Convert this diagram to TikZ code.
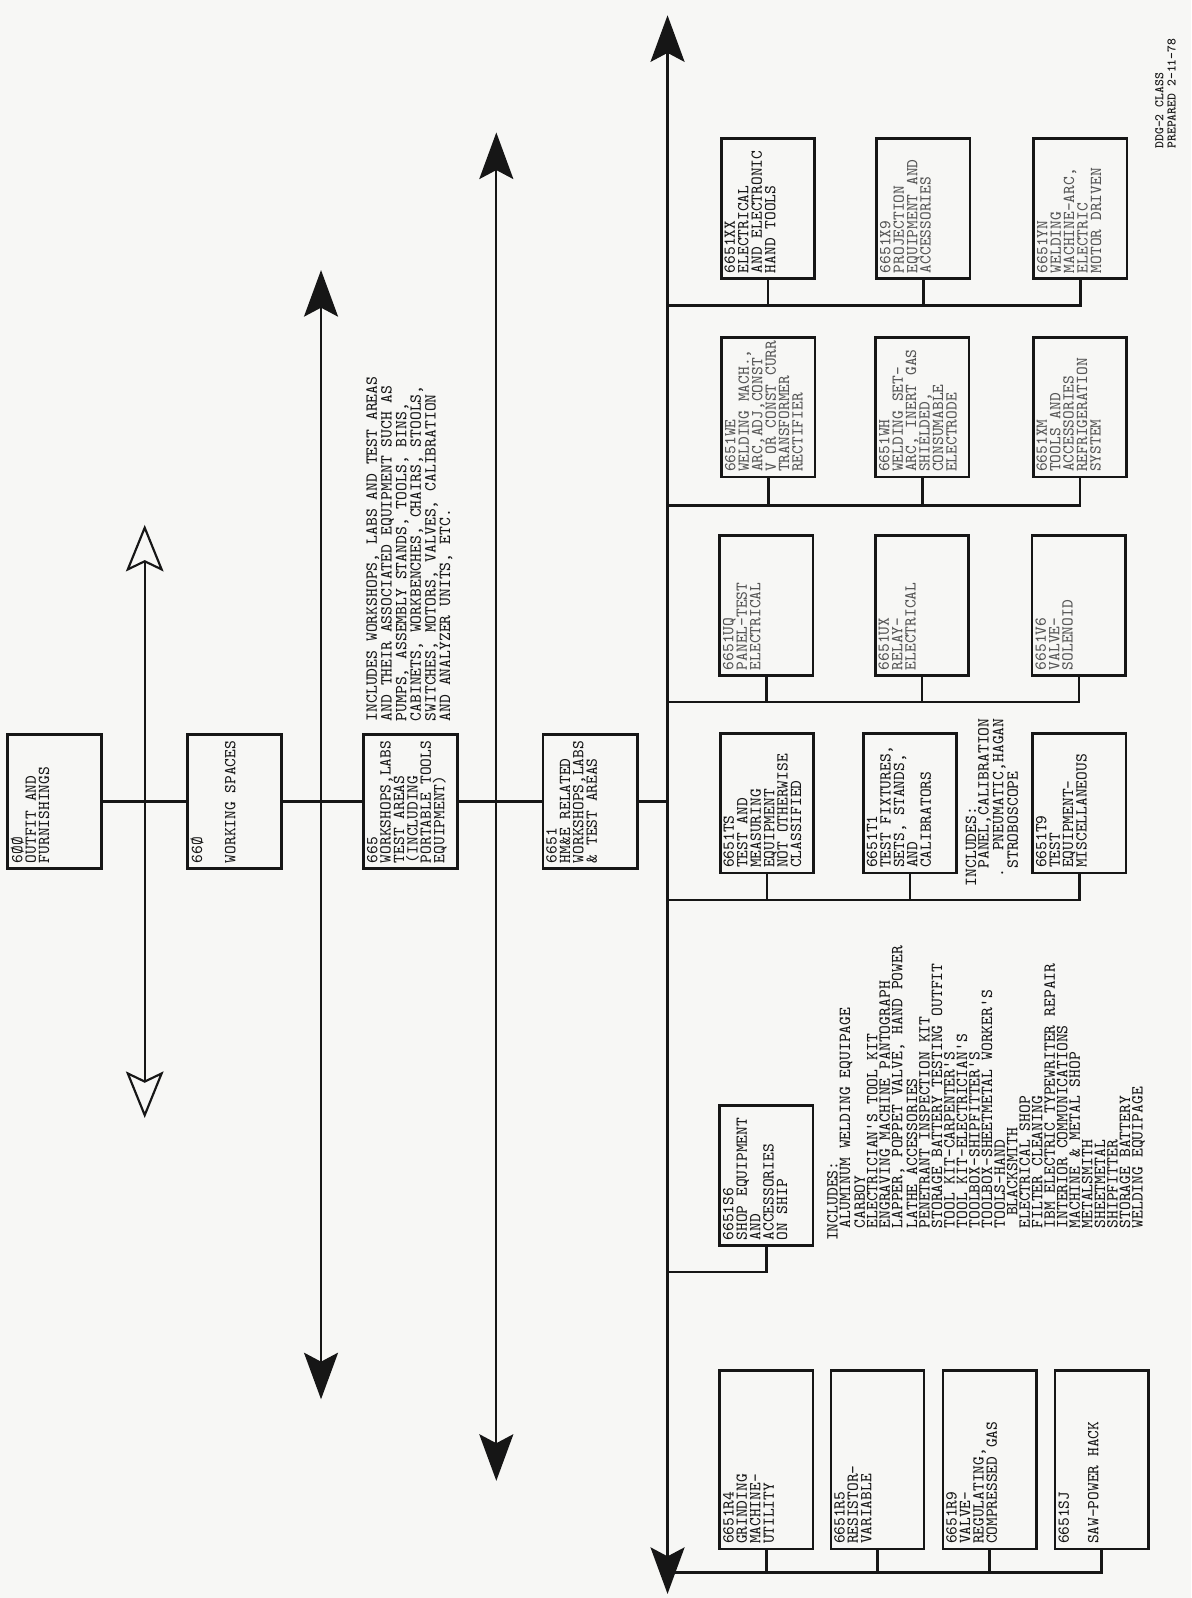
\documentclass[tikz,border=0pt]{standalone}
\usepackage{fontspec}
\usepackage{tikz}
\usetikzlibrary{arrows.meta,positioning}
\definecolor{dgpaper}{HTML}{F7F7F5}
\definecolor{dgink}{HTML}{161616}
\definecolor{dgpale}{HTML}{555555}
\newcommand\li{\hspace*{7pt}}
\newcommand\twfont{\ttfamily\addfontfeatures{FakeBold=0.6}}
\tikzset{
  cbox/.style={draw=dgink,line width=1.5pt,rotate=90,inner sep=0pt,
               minimum width=2.74cm,minimum height=1.83cm},
  topbox/.style={cbox,minimum width=2.62cm,minimum height=1.85cm},
  tallbox/.style={cbox,minimum width=3.5cm},
  btxt/.style={rotate=90,anchor=north west,align=left,inner xsep=3.4pt,
               inner ysep=2.4pt,text=dgink,font=\twfont\fontsize{9.3}{7.5}\selectfont},
  note/.style={btxt,font=\twfont\fontsize{9.4}{7.0}\selectfont},
  pale/.style={text=dgpale},
  wire/.style={draw=dgink,line width=1.4pt},
  tierline/.style={draw=dgink,line width=1.2pt,<->,
                   >={Stealth[length=26pt,width=19pt,inset=5pt]}},
  opentier/.style={draw=dgink,line width=1.2pt,<->,
                   >={Stealth[open,length=26pt,width=21pt,inset=5pt]}},
}
\begin{document}
\begin{tikzpicture}[x=0.02cm,y=-0.02cm]
\fill[dgpaper] (0,0) rectangle (1169,1568);
\useasboundingbox (0,0) rectangle (1169,1568);

\coordinate (l1a) at (142,515);  \coordinate (l1b) at (142,1097);
\coordinate (l2a) at (315,265);  \coordinate (l2b) at (315,1373);
\coordinate (l3a) at (487,130);  \coordinate (l3b) at (487,1453);
\coordinate (l4a) at (655,15);   \coordinate (l4b) at (655,1564);
\draw[opentier] (l1b) -- (l1a);
\foreach \a/\b in {l2a/l2b,l3a/l3b,l4a/l4b}
  {\draw[tierline] (\b) -- (\a);}

\node[topbox] (b600) at (53.5,786.5) {};
\node[topbox] (b660) at (230,786.5) {};
\node[topbox] (b665) at (403,786.5) {};
\node[topbox] (b6651) at (579,786.5) {};
\node[btxt] (t600) at (b600.north west) {6ØØ\\OUTFIT AND\\FURNISHINGS};
\node[btxt] (t660) at (b660.north west) {66Ø\\[11pt]WORKING SPACES};
\node[btxt] (t665) at (b665.north west)
  {665\\WORKSHOPS,LABS\\TEST AREAS\\(INCLUDING\\PORTABLE TOOLS\\EQUIPMENT)};
\node[btxt] (t6651) at (b6651.north west)
  {6651\\HM\&E RELATED\\WORKSHOPS,LABS\\\& TEST AREAS};
\foreach \a/\b in {b600/b660,b660/b665,b665/b6651}
  {\draw[wire] (\a) -- (\b);}
\draw[wire] (b6651) -- (b6651 -| l4a);

\node[note] (n665) at (355,714) {INCLUDES WORKSHOPS, LABS AND TEST AREAS\\
  AND THEIR ASSOCIATED EQUIPMENT SUCH AS\\PUMPS, ASSEMBLY STANDS, TOOLS, BINS,\\
  CABINETS, WORKBENCHES, CHAIRS, STOOLS,\\SWITCHES, MOTORS, VALVES, CALIBRATION\\
  AND ANALYZER UNITS, ETC.};

\node[cbox] (xx) at (753.5,204.5) {};
\node[cbox] (x9) at (906,204.5) {};
\node[cbox] (yn) at (1060,204.5) {};
\node[cbox] (we) at (754,399.5) {};
\node[cbox] (wh) at (905,399.5) {};
\node[cbox] (xm) at (1059.5,399.5) {};
\node[cbox] (uq) at (752,594) {};
\node[cbox] (ux) at (904.5,594) {};
\node[cbox] (v6) at (1058.5,594) {};
\node[cbox] (t5) at (752.5,788) {};
\node[cbox] (t1) at (893,788) {};
\node[cbox] (t9) at (1059,788) {};
\node[cbox] (s6) at (752,1153.5) {};
\node[tallbox] (r4) at (752,1432.5) {};
\node[tallbox] (r5) at (861,1432.5) {};
\node[tallbox] (r9) at (971,1432.5) {};
\node[tallbox] (sj) at (1081,1432.5) {};

\node[btxt] (txx) at (xx.north west) {6651XX\\ELECTRICAL\\AND ELECTRONIC\\HAND TOOLS};
\node[btxt,pale] (tx9) at (x9.north west) {6651X9\\PROJECTION\\EQUIPMENT AND\\ACCESSORIES};
\node[btxt,pale] (tyn) at (yn.north west) {6651YN\\WELDING\\MACHINE-ARC,\\ELECTRIC\\MOTOR DRIVEN};
\node[btxt,pale] (twe) at (we.north west)
  {6651WE\\WELDING MACH.,\\ARC,ADJ,CONST\\V OR CONST CURR\\TRANSFORMER\\RECTIFIER};
\node[btxt,pale] (twh) at (wh.north west)
  {6651WH\\WELDING SET-\\ARC, INERT GAS\\SHIELDED,\\CONSUMABLE\\ELECTRODE};
\node[btxt,pale] (txm) at (xm.north west)
  {6651XM\\TOOLS AND\\ACCESSORIES\\REFRIGERATION\\SYSTEM};
\node[btxt,pale] (tuq) at (uq.north west) {6651UQ\\PANEL-TEST\\ELECTRICAL};
\node[btxt,pale] (tux) at (ux.north west) {6651UX\\RELAY-\\ELECTRICAL};
\node[btxt,pale] (tv6) at (v6.north west) {6651V6\\VALVE-\\SOLENOID};
\node[btxt] (tt5) at (t5.north west)
  {6651TS\\TEST AND\\MEASURING\\EQUIPMENT\\NOT OTHERWISE\\CLASSIFIED};
\node[btxt] (tt1) at (t1.north west)
  {6651T1\\TEST FIXTURES,\\SETS, STANDS,\\AND\\CALIBRATORS};
\node[btxt] (tt9) at (t9.north west) {6651T9\\TEST\\EQUIPMENT-\\MISCELLANEOUS};
\node[btxt] (ts6) at (s6.north west)
  {6651S6\\SHOP EQUIPMENT\\AND\\ACCESSORIES\\ON SHIP};
\node[btxt] (tr4) at (r4.north west) {6651R4\\GRINDING\\MACHINE-\\UTILITY};
\node[btxt] (tr5) at (r5.north west) {6651R5\\RESISTOR-\\VARIABLE};
\node[btxt] (tr9) at (r9.north west) {6651R9\\VALVE-\\REGULATING,\\COMPRESSED GAS};
\node[btxt] (tsj) at (sj.north west) {6651SJ\\[9pt]SAW-POWER HACK};

\coordinate (gx) at (655,300);
\coordinate (gw) at (655,496);
\coordinate (gu) at (655,689);
\coordinate (gt) at (655,883);
\coordinate (gs) at (655,1248);
\coordinate (gr) at (655,1543);
\foreach \g/\a/\b/\c in {gx/xx/x9/yn,gw/we/wh/xm,gu/uq/ux/v6,gt/t5/t1/t9}{
  \draw[wire] (\g) -| (\c.west);
  \draw[wire] (\a.west) -- (\a.west |- \g);
  \draw[wire] (\b.west) -- (\b.west |- \g);
}
\draw[wire] (gs) -| (s6.west);
\draw[wire] (gr) -| (sj.west);
\foreach \b in {r4,r5,r9}
  {\draw[wire] (\b.west) -- (\b.west |- gr);}

\node[note] (nt1) at (943,876) {INCLUDES:\\\phantom{XX}PANEL,CALIBRATION\\
  \phantom{X}.\phantom{XX}PNEUMATIC,HAGAN\\\phantom{XX}STROBOSCOPE};
\node[note] (ns6) at (807,1224) {INCLUDES:\\
  \li ALUMINUM WELDING EQUIPAGE\\\li CARBOY\\\li ELECTRICIAN'S TOOL KIT\\
  \li ENGRAVING MACHINE PANTOGRAPH\\\li LAPPER, POPPET VALVE, HAND POWER\\
  \li LATHE ACCESSORIES\\\li PENETRANT INSPECTION KIT\\
  \li STORAGE BATTERY TESTING OUTFIT\\\li TOOL KIT-CARPENTER'S\\
  \li TOOL KIT-ELECTRICIAN'S\\\li TOOLBOX-SHIPFITTER'S\\
  \li TOOLBOX-SHEETMETAL WORKER'S\\\li TOOLS-HAND\\\li\li BLACKSMITH\\
  \li ELECTRICAL SHOP\\\li FILTER CLEANING\\\li IBM ELECTRIC TYPEWRITER REPAIR\\
  \li INTERIOR COMMUNICATIONS\\\li MACHINE \& METAL SHOP\\\li METALSMITH\\
  \li SHEETMETAL\\\li SHIPFITTER\\\li STORAGE BATTERY\\\li WELDING EQUIPAGE};

\node[btxt,font=\ttfamily\bfseries\fontsize{7.3}{6.8}\selectfont] (ddg)
  at (1129,152) {DDG-2 CLASS\\PREPARED 2-11-78};
\end{tikzpicture}
\end{document}
